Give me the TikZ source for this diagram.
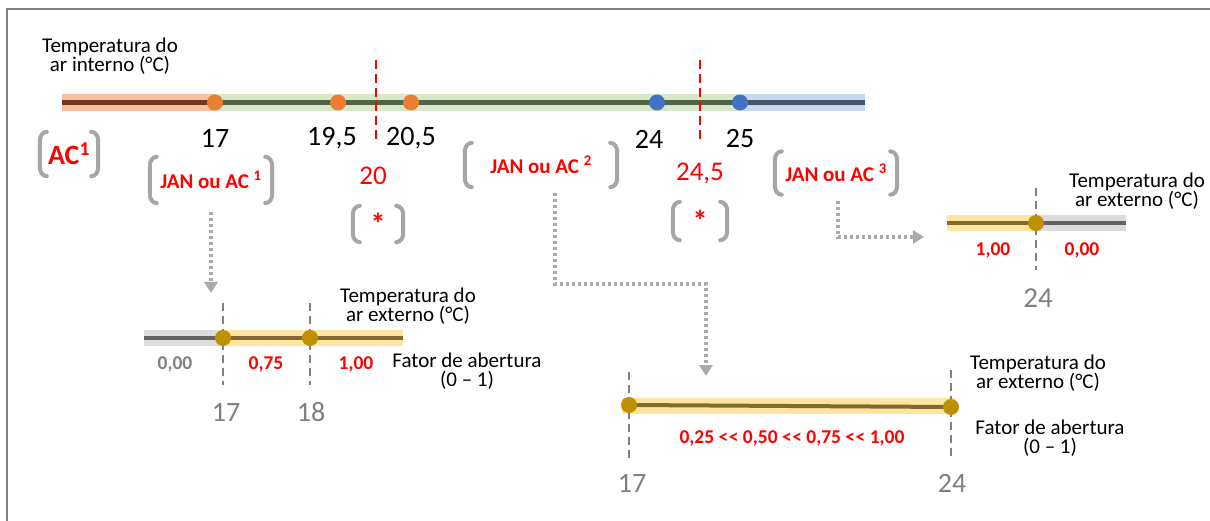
\documentclass[tikz,border=0pt]{standalone}
\usepackage{fontspec}
\setmainfont{Carlito}
\usetikzlibrary{arrows.meta}
\definecolor{frm}{RGB}{128,128,128}
\definecolor{orband}{RGB}{248,192,160}
\definecolor{orline}{RGB}{110,55,30}
\definecolor{grband}{RGB}{214,232,200}
\definecolor{grline}{RGB}{80,100,70}
\definecolor{blband}{RGB}{200,218,238}
\definecolor{blline}{RGB}{70,85,105}
\definecolor{ordot}{RGB}{237,125,49}
\definecolor{bldot}{RGB}{68,114,196}
\definecolor{yeband}{RGB}{255,230,160}
\definecolor{yeline}{RGB}{130,105,50}
\definecolor{gyband}{RGB}{220,220,220}
\definecolor{gyline}{RGB}{100,100,100}
\definecolor{golddot}{RGB}{191,144,0}
\definecolor{brkcol}{RGB}{166,166,166}
\definecolor{conncol}{RGB}{170,170,170}
\definecolor{txtgrey}{RGB}{128,128,128}
\definecolor{myred}{RGB}{255,0,0}
\newcommand\drawbrk[1]{%
  \draw[brk] ([xshift=7pt]#1.north west) to[out=180,in=90] ([yshift=-9pt]#1.north west)
    -- ([yshift=9pt]#1.south west) to[out=-90,in=180] ([xshift=7pt]#1.south west);
  \draw[brk] ([xshift=-7pt]#1.north east) to[out=0,in=90] ([yshift=-9pt]#1.north east)
    -- ([yshift=9pt]#1.south east) to[out=-90,in=0] ([xshift=-7pt]#1.south east);}
\newcommand\lsl{\mbox{<}\kern0.5pt\mbox{<}}
\begin{document}
\begin{tikzpicture}[x=1pt,y=-1pt,
  frame/.style={draw=frm,line width=2pt},
  txt/.style={font=\fontsize{21}{19.5}\selectfont,align=center,inner sep=0pt},
  num/.style={font=\fontsize{28}{30}\selectfont,inner sep=0pt},
  rednum/.style={font=\fontsize{27}{30}\selectfont,text=myred,inner sep=0pt},
  gnum/.style={font=\fontsize{28}{30}\selectfont,text=txtgrey,inner sep=0pt},
  val/.style={font=\bfseries\fontsize{19.5}{22}\selectfont,inner sep=0pt},
  brkbox/.style={inner sep=0pt,font=\bfseries\fontsize{21}{22}\selectfont,text=myred},
  brk/.style={draw=brkcol,line width=4pt,line cap=round},
  dot/.style={circle,inner sep=0pt,minimum size=16pt},
  redcut/.style={draw=myred,line width=2.5pt,dash pattern=on 9pt off 5pt},
  greycut/.style={draw=txtgrey,line width=2.2pt,dash pattern=on 8pt off 5pt},
  conn/.style={draw=conncol,line width=4pt,dash pattern=on 3pt off 3pt,
    -{Triangle[width=13pt,length=11pt]}},
]
\useasboundingbox (0,0) rectangle (1210,521);
\draw[frame] (6,9) -- (1210,9);
\draw[frame] (7,9) -- (7,521);

% ---------- main bar ----------
\fill[orband] (62,94) rectangle (215,111);
\fill[grband] (215,94) rectangle (740,111);
\fill[blband] (740,94) rectangle (865,111);
\draw[orline,line width=4.5pt] (62,102.5) -- (215,102.5);
\draw[grline,line width=4.5pt] (215,102.5) -- (740,102.5);
\draw[blline,line width=4.5pt] (740,102.5) -- (865,102.5);
\draw[redcut] (376,60) -- (376,143);
\draw[redcut] (700,60) -- (700,143);
\node[dot,fill=ordot] (d17) at (215,102.5) {};
\node[dot,fill=ordot] (d195) at (338,102.5) {};
\node[dot,fill=ordot] (d205) at (411,102.5) {};
\node[dot,fill=bldot] (d24) at (657,102.5) {};
\node[dot,fill=bldot] (d25) at (740,102.5) {};

\node[txt] (tin) at (110,56) {Temperatura do\\ar interno (°C)};
\node[num] (n17) at (215,138) {17};
\node[num] (n195) at (332,138) {19,5};
\node[num] (n205) at (411,138) {20,5};
\node[num] (n24) at (649,139) {24};
\node[num] (n25) at (740,139) {25};
\node[rednum] (n20) at (373,176) {20};
\node[rednum] (n245) at (700,173) {24,5};

% ---------- bracketed labels ----------
\node[brkbox,minimum width=58pt,minimum height=44pt,font=\bfseries\fontsize{28}{30}\selectfont] (ac1) at (69,154) {AC\textsuperscript{1}};
\drawbrk{ac1}
\node[brkbox,minimum width=122pt,minimum height=46pt] (j1) at (211,180) {JAN ou AC \textsuperscript{1}};
\drawbrk{j1}
\node[brkbox,minimum width=50pt,minimum height=36pt,font=\bfseries\fontsize{30}{30}\selectfont] (s1) at (378,224) {*};
\drawbrk{s1}
\node[brkbox,minimum width=152pt,minimum height=44pt] (j2) at (541,165) {JAN ou AC \textsuperscript{2}\hspace{10pt}};
\drawbrk{j2}
\node[brkbox,minimum width=54pt,minimum height=38pt,font=\bfseries\fontsize{30}{30}\selectfont] (s2) at (700,221) {*};
\drawbrk{s2}
\node[brkbox,minimum width=122pt,minimum height=43pt] (j3) at (836,173) {JAN ou AC \textsuperscript{3}};
\drawbrk{j3}

% ---------- connectors ----------
\coordinate (a1e) at (211,293);
\coordinate (a2m) at (706,284);
\coordinate (a2e) at (706,376);
\coordinate (a3e) at (924,237);
\draw[conn] ([yshift=-9pt]j1.south) -- (a1e);
\draw[conn] ([xshift=14pt,yshift=-6pt]j2.south) |- (a2m) -- (a2e);
\draw[conn] ([xshift=2pt,yshift=-6pt]j3.south) |- (a3e);

% ---------- sub-chart 1 ----------
\fill[gyband] (144,330) rectangle (223,346);
\fill[yeband] (223,330) rectangle (403,346);
\draw[gyline,line width=4pt] (144,338) -- (223,338);
\draw[yeline,line width=4pt] (223,338) -- (403,338);
\draw[greycut] (223,303) -- (223,385);
\draw[greycut] (310,303) -- (310,385);
\node[dot,fill=golddot] (p17) at (223,338) {};
\node[dot,fill=golddot] (p18) at (310,338) {};
\node[val,text=txtgrey] (v000) at (175,364) {0,00};
\node[val,text=myred] (v075) at (266,364) {0,75};
\node[val,text=myred] (v100) at (356,364) {1,00};
\node[gnum] (g17) at (226,412) {17};
\node[gnum] (g18) at (311,412) {18};
\node[txt] (tex1) at (408,306) {Temperatura do\\ar externo (°C)};
\node[txt] (fa1) at (467,371) {Fator de abertura\\(0 – 1)};

% ---------- sub-chart 3 ----------
\fill[yeband] (947,215) rectangle (1036,231);
\fill[gyband] (1036,215) rectangle (1126,231);
\draw[yeline,line width=4pt] (947,223) -- (1036,223);
\draw[gyline,line width=4pt] (1036,223) -- (1126,223);
\draw[greycut] (1036,188) -- (1036,270);
\node[dot,fill=golddot] (q24) at (1036,223) {};
\node[val,text=myred] (w100) at (993,250) {1,00};
\node[val,text=myred] (w000) at (1082,250) {0,00};
\node[gnum,font=\fontsize{29}{30}\selectfont] (h24) at (1038,298) {24};
\node[txt] (tex3) at (1137,191) {Temperatura do\\ar externo (°C)};

% ---------- sub-chart 2 ----------
\fill[yeband] (622,398) rectangle (955,414);
\draw[yeline,line width=4pt] (629,405) -- (951,407);
\draw[greycut] (629,372) -- (629,458);
\draw[greycut] (951,370) -- (951,456);
\node[dot,fill=golddot] (r17) at (629,405) {};
\node[dot,fill=golddot] (r24) at (951,407) {};
\node[val,text=myred] (seq) at (792,438) {0,25 \lsl{} 0,50 \lsl{} 0,75 \lsl{} 1,00};
\node[gnum] (k17) at (632,483) {17};
\node[gnum] (k24) at (952,483) {24};
\node[txt] (tex2) at (1038,373) {Temperatura do\\ar externo (°C)};
\node[txt] (fa2) at (1050,438) {Fator de abertura\\(0 – 1)};
\end{tikzpicture}
\end{document}
